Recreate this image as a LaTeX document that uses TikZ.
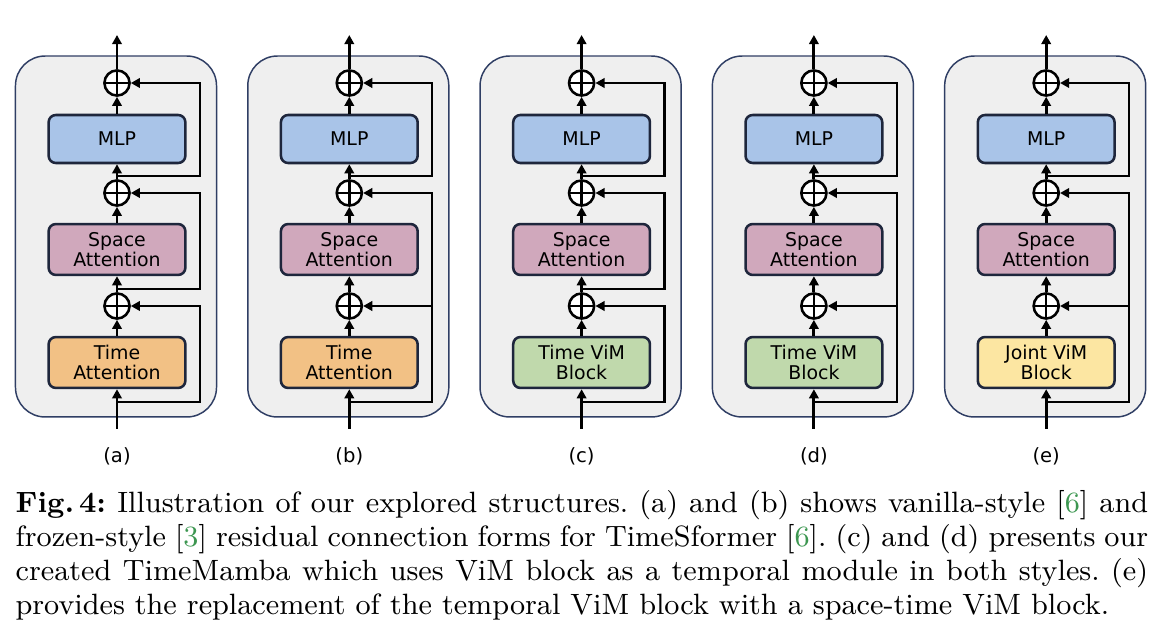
\documentclass[tikz,border=0pt]{standalone}
\usepackage{fontspec}
\newfontfamily\diagfont{DejaVu Sans}
\usetikzlibrary{arrows.meta}

\definecolor{panelfill}{RGB}{239,239,239}
\definecolor{paneledge}{RGB}{47,62,100}
\definecolor{blockedge}{RGB}{30,38,60}
\definecolor{mlpblue}{RGB}{169,196,232}
\definecolor{spacepink}{RGB}{208,168,188}
\definecolor{timeorange}{RGB}{242,193,133}
\definecolor{vimgreen}{RGB}{192,217,172}
\definecolor{jointyellow}{RGB}{252,230,162}
\definecolor{citegreen}{RGB}{60,150,80}

\tikzset{
  panel/.style={draw=paneledge, fill=panelfill, line width=0.45pt, rounded corners=9.1pt, minimum width=61.6pt, minimum height=110.6pt, inner sep=0pt},
  block/.style={draw=blockedge, rounded corners=2.2pt, line width=0.78pt, minimum width=41.9pt, minimum height=15.6pt, align=center, inner sep=0pt, font=\diagfont\fontsize{5.8}{6.35}\selectfont},
  sumcirc/.style={draw, circle, fill=white, line width=0.78pt, minimum size=7.7pt, inner sep=0pt,
    path picture={\draw[line width=0.78pt] (path picture bounding box.north) -- (path picture bounding box.south) (path picture bounding box.west) -- (path picture bounding box.east);}},
  flow/.style={-{Triangle[length=2.8pt,width=2.9pt]}, line width=0.86pt},
  rail/.style={line width=0.73pt},
  tag/.style={font=\diagfont\fontsize{6}{7}\selectfont, inner sep=0pt},
}

\begin{document}
\begin{tikzpicture}[x=0.3064pt, y=-0.3064pt]
        \useasboundingbox (0,0) rectangle (1174,640);

        \foreach \p/\x/\lowfill/\lowtext in {a/117/timeorange/{Time\\Attention}, b/349.3/timeorange/{Time\\Attention}, c/581.6/vimgreen/{Time ViM\\Block}, d/813.9/vimgreen/{Time ViM\\Block}, e/1046.2/jointyellow/{Joint ViM\\Block}} {
            \node[panel] (\p-panel) at (\x-1, 236.5) {};
            \node[block, fill=mlpblue, minimum height=14.7pt] (\p-mlp) at (\x, 139) {MLP};
            \node[block, fill=spacepink] (\p-space) at (\x, 249.5) {Space\\Attention};
            \node[block, fill=\lowfill] (\p-low) at (\x, 362.5) {\lowtext};
            \node[sumcirc] (\p-s1) at (\x, 83) {};
            \node[sumcirc] (\p-s2) at (\x, 193) {};
            \node[sumcirc] (\p-s3) at (\x, 306) {};
            \coordinate (\p-in) at (\x, 429);
            \coordinate (\p-out) at (\x, 35);
            \coordinate (\p-b1) at (\x, 176);
            \coordinate (\p-b2) at (\x, 289);
            \coordinate (\p-b3) at (\x, 402);
            \coordinate (\p-r1) at (\x+83, 83);
            \coordinate (\p-r2) at (\x+83, 193);
            \coordinate (\p-r3) at (\x+83, 306);
            \node[tag] (\p-label) at (\x, 456) {(\p)};

            \draw[flow] (\p-in) -- (\p-low);
            \draw[flow] (\p-low) -- (\p-s3);
            \draw[flow] (\p-s3) -- (\p-space);
            \draw[flow] (\p-space) -- (\p-s2);
            \draw[flow] (\p-s2) -- (\p-mlp);
            \draw[flow] (\p-mlp) -- (\p-s1);
            \draw[flow] (\p-s1) -- (\p-out);
            \draw[flow, rail] (\p-b1) -| (\p-r1) -- (\p-s1);
        }

        \foreach \p in {a, c} {
            \draw[flow, rail] (\p-b2) -| (\p-r2) -- (\p-s2);
            \draw[flow, rail] (\p-b3) -| (\p-r3) -- (\p-s3);
        }

        \foreach \p in {b, d, e} {
            \draw[flow, rail] (\p-b3) -| (\p-r2) -- (\p-s2);
            \draw[flow, rail] (\p-r3) -- (\p-s3);
        }

        \node[anchor=north west, text width=347pt, align=justify, inner sep=0pt, font=\fontsize{9}{10.4}\selectfont\frenchspacing] (caption) at (15, 488.5) {\strut\textbf{Fig.\,4:} Illustration of our explored structures. (a) and (b) shows vanilla-style [\textcolor{citegreen}{6}] and\linebreak frozen-style [\textcolor{citegreen}{3}] residual connection forms for TimeSformer [\textcolor{citegreen}{6}]. (c) and (d) presents our\linebreak created TimeMamba which uses ViM block as a temporal module in both styles. (e)\linebreak provides the replacement of the temporal ViM block with a space-time ViM block.};
\end{tikzpicture}
\end{document}
